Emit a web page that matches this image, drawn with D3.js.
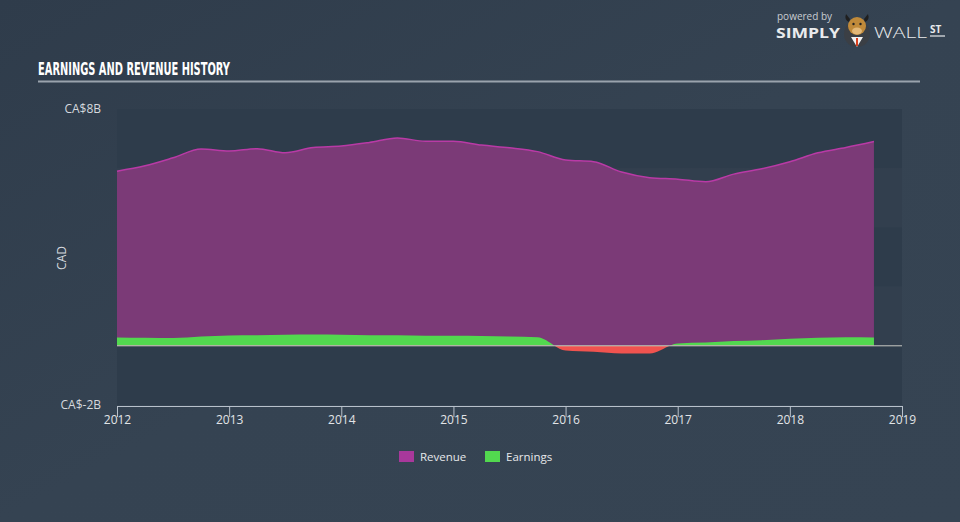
<!DOCTYPE html>
<html>
<head>
<meta charset="utf-8">
<script src="https://cdn.jsdelivr.net/npm/d3@7"></script>
<style>
html,body{margin:0;padding:0;background:#344251;}
svg{display:block;}
</style>
</head>
<body>
<svg id="chart" width="960" height="522"></svg>
<script>
// ---- data (quarterly, CA$ billions) ----
const dates = [2012.00,2012.25,2012.50,2012.75,2013.00,2013.25,2013.50,2013.75,
               2014.00,2014.25,2014.50,2014.75,2015.00,2015.25,2015.50,2015.75,
               2016.00,2016.25,2016.50,2016.75,2017.00,2017.25,2017.50,2017.75,
               2018.00,2018.25,2018.50,2018.75];
const revenue = [5.90,6.08,6.35,6.65,6.58,6.66,6.52,6.70,
                 6.75,6.87,7.02,6.91,6.91,6.78,6.69,6.56,
                 6.28,6.22,5.87,5.68,5.63,5.54,5.80,5.98,
                 6.22,6.52,6.70,6.90];
const earnings = [0.28,0.27,0.26,0.31,0.35,0.36,0.37,0.38,
                  0.37,0.36,0.36,0.34,0.34,0.33,0.31,0.29,
                  -0.16,-0.20,-0.26,-0.26,0.08,0.11,0.16,0.19,
                  0.24,0.27,0.29,0.28];
const xTicks = [2012,2013,2014,2015,2016,2017,2018,2019];
const yTickLabels = [{v:8,label:"CA$8B"},{v:-2,label:"CA$-2B"}];
const bandEdges = [8,6,4,2,0,-2];
const seriesNames = ["Revenue","Earnings"];

const svg = d3.select("#chart");
const W = 960, H = 522;

// background gradient
const defs = svg.append("defs");
const bg = defs.append("linearGradient").attr("id","bg").attr("x1","0").attr("y1","0").attr("x2","1").attr("y2","1");
bg.append("stop").attr("offset","0%").attr("stop-color","#2f3c4b");
bg.append("stop").attr("offset","50%").attr("stop-color","#354352");
bg.append("stop").attr("offset","100%").attr("stop-color","#364453");
svg.append("rect").attr("width",W).attr("height",H).attr("fill","url(#bg)");

const x = d3.scaleLinear().domain([2012,2019]).range([117,902]);
const y = d3.scaleLinear().domain([-2,8]).range([405,109]);

// bands
for (let i=0;i<bandEdges.length-1;i++){
  svg.append("rect")
    .attr("x",x(2012)).attr("width",x(2019)-x(2012))
    .attr("y",y(bandEdges[i])).attr("height",y(bandEdges[i+1])-y(bandEdges[i]))
    .attr("fill", i%2===0 ? "#2e3c4b" : "#323f4e");
}

// title
svg.append("text").attr("x",38).attr("y",75)
  .attr("font-family","'DejaVu Sans Condensed','DejaVu Sans',sans-serif")
  .attr("font-weight","bold").attr("font-size",17).attr("fill","#ffffff")
  .attr("textLength",192).attr("lengthAdjust","spacingAndGlyphs")
  .text("EARNINGS AND REVENUE HISTORY");
svg.append("line").attr("x1",38).attr("x2",920).attr("y1",81.5).attr("y2",81.5)
  .attr("stroke","#9aa3ad").attr("stroke-width",2);

const data = dates.map((d,i)=>({d, r:revenue[i], e:earnings[i]}));
const curve = d3.curveMonotoneX;

// revenue
const revArea = d3.area().x(d=>x(d.d)).y0(y(0)).y1(d=>y(d.r)).curve(curve);
const revLine = d3.line().x(d=>x(d.d)).y(d=>y(d.r)).curve(curve);
svg.append("path").datum(data).attr("d",revArea).attr("fill","#7b3a77");
svg.append("path").datum(data).attr("d",revLine).attr("fill","none")
  .attr("stroke","#b93aa6").attr("stroke-width",1.5);

// earnings, clipped pos/neg
defs.append("clipPath").attr("id","pos").append("rect")
  .attr("x",0).attr("y",0).attr("width",W).attr("height",y(0));
defs.append("clipPath").attr("id","neg").append("rect")
  .attr("x",0).attr("y",y(0)).attr("width",W).attr("height",H-y(0));
const eArea = d3.area().x(d=>x(d.d)).y0(y(0)).y1(d=>y(d.e)).curve(curve);
svg.append("path").datum(data).attr("d",eArea).attr("fill","#52d84f").attr("clip-path","url(#pos)");
svg.append("path").datum(data).attr("d",eArea).attr("fill","#f0534f").attr("clip-path","url(#neg)");

// zero line
svg.append("line").attr("x1",x(2012)).attr("x2",x(2019)).attr("y1",y(0)).attr("y2",y(0))
  .attr("stroke","#c9c9c4").attr("stroke-width",1);

// x axis
const xAxis = d3.axisBottom(x).tickValues(xTicks).tickFormat(d3.format("d")).tickSize(11).tickSizeOuter(0);
const gx = svg.append("g").attr("transform",`translate(0,${y(-2)+1})`).call(xAxis);
gx.select(".domain").attr("stroke","#b8c1cb");
gx.selectAll(".tick line").attr("stroke","#b8c1cb");
gx.selectAll(".tick text").attr("fill","#e2e4e7").attr("font-size",12)
  .attr("font-family","'Open Sans',Lato,sans-serif").attr("y",9).attr("dy","0.71em");

// y labels
svg.selectAll(".ylab").data(yTickLabels).enter().append("text")
  .attr("x",101).attr("y",d=>y(d.v)).attr("dy","0.35em").attr("text-anchor","end")
  .attr("font-family","'Open Sans',Lato,sans-serif").attr("font-size",12).attr("fill","#d5d9de")
  .text(d=>d.label);
svg.append("text").attr("transform",`translate(66,258) rotate(-90)`)
  .attr("text-anchor","middle").attr("font-family","'Open Sans',Lato,sans-serif")
  .attr("font-size",12).attr("fill","#d5d9de").text("CAD");

// legend
const legColors = ["#a8389b","#52d84f"];
const legX = [399,485];
seriesNames.forEach((n,i)=>{
  svg.append("rect").attr("x",legX[i]).attr("y",451).attr("width",15).attr("height",11).attr("fill",legColors[i]);
  svg.append("text").attr("x",legX[i]+21).attr("y",456.5).attr("dy","0.35em")
    .attr("font-family","'Open Sans',Lato,sans-serif").attr("font-size",11.5).attr("fill","#e6e8ea").text(n);
});

// logo
const logo = svg.append("g");
logo.append("text").attr("x",777).attr("y",20).attr("font-family","'Open Sans',sans-serif")
  .attr("font-size",10).attr("fill","#c9cdd2").text("powered by");
logo.append("text").attr("x",776).attr("y",38).attr("font-family","'Open Sans',sans-serif")
  .attr("font-weight","bold").attr("font-size",15).attr("fill","#e9ebed")
  .attr("textLength",64).attr("lengthAdjust","spacingAndGlyphs").text("SIMPLY");
logo.append("text").attr("x",874).attr("y",38).attr("font-family","'Open Sans',sans-serif")
  .attr("font-weight","300").attr("font-size",15).attr("fill","#e9ebed")
  .attr("textLength",53).attr("lengthAdjust","spacingAndGlyphs").text("WALL");
logo.append("text").attr("x",930).attr("y",33).attr("font-family","'Open Sans',sans-serif")
  .attr("font-weight","bold").attr("font-size",10).attr("fill","#e9ebed").text("ST");
logo.append("line").attr("x1",930).attr("x2",945).attr("y1",36).attr("y2",36).attr("stroke","#e9ebed").attr("stroke-width",1.2);
// bull
logo.append("circle").attr("cx",857).attr("cy",34).attr("r",13).attr("fill","#3b3f45");
logo.append("path").attr("d","M851,37 L857,47 L863,37 Z").attr("fill","#f2f2f2");
logo.append("path").attr("d","M856,38 L858,38 L858,46 L856,46 Z").attr("fill","#d9401f");
logo.append("path").attr("d","M846,14 Q844,20 849,22 L850,19 Z").attr("fill","#1f1f1f");
logo.append("path").attr("d","M868,14 Q870,20 865,22 L864,19 Z").attr("fill","#1f1f1f");
logo.append("ellipse").attr("cx",857).attr("cy",26).attr("rx",9).attr("ry",9).attr("fill","#c08a3a");
logo.append("ellipse").attr("cx",857).attr("cy",31).attr("rx",5).attr("ry",3.5).attr("fill","#e3b878");
logo.append("circle").attr("cx",853.5).attr("cy",24).attr("r",1.2).attr("fill","#222");
logo.append("circle").attr("cx",860.5).attr("cy",24).attr("r",1.2).attr("fill","#222");
</script>
</body>
</html>
